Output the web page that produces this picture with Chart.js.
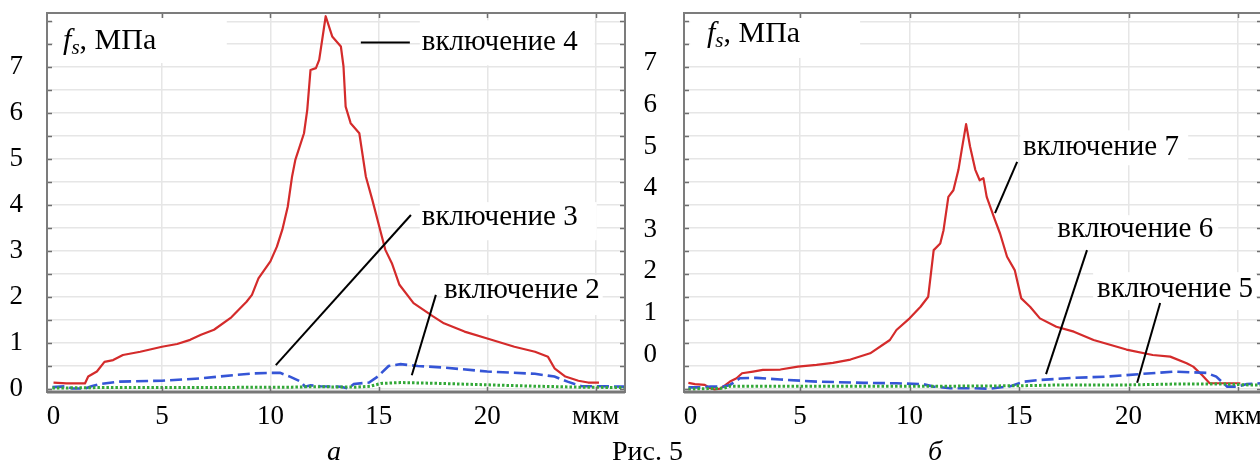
<!DOCTYPE html>
<html><head><meta charset="utf-8">
<script src="https://cdn.jsdelivr.net/npm/chart.js@4.4.1/dist/chart.umd.min.js"></script>
<style>
html,body{margin:0;padding:0;background:#fff;}
body{width:1260px;height:465px;overflow:hidden;position:relative;font-family:"Liberation Serif","Times New Roman",serif;color:#000;}
#wa{position:absolute;left:0;top:0;width:640px;height:465px;}
#wb{position:absolute;left:634px;top:0;width:640px;height:465px;}
canvas{display:block;}
.cap{position:absolute;font-size:28px;line-height:28px;white-space:nowrap;}
</style></head><body>
<div id="wa"><canvas id="ca" width="640" height="465" style="width:640px;height:465px"></canvas></div>
<div id="wb"><canvas id="cb" width="640" height="465" style="width:640px;height:465px"></canvas></div>
<div class="cap" style="left:327px;top:437px;font-style:italic">а</div>
<div class="cap" style="left:612px;top:437px">Рис. 5</div>
<div class="cap" style="left:928px;top:437px;font-style:italic">б</div>
<script>
// ---------- tick labels ----------
const xTicks = [0, 5, 10, 15, 20, 25];
const xTickLabels = ['0', '5', '10', '15', '20', 'мкм'];
const yTickLabels = [0, 1, 2, 3, 4, 5, 6, 7];
const yGridSteps = [0, 0.5, 1, 1.5, 2, 2.5, 3, 3.5, 4, 4.5, 5, 5.5, 6, 6.5, 7, 7.5, 8];

// ---------- panel а ----------
const a_incl4_x = [0, 0.6, 1.45, 1.6, 2.0, 2.35, 2.75, 3.2, 4.0, 5.0, 5.7, 6.3, 6.8, 7.4, 8.2, 8.9, 9.15, 9.45, 10.0, 10.3, 10.55, 10.8, 11.0, 11.15, 11.55, 11.7, 11.85, 12.1, 12.25, 12.55, 12.85, 13.25, 13.37, 13.47, 13.7, 14.1, 14.4, 14.7, 15.1, 15.3, 15.6, 15.95, 16.6, 17.5, 18.0, 18.95, 20.0, 21.25, 22.2, 22.8, 23.1, 23.6, 24.2, 24.65, 25.15];
const a_incl4_y = [0.13, 0.11, 0.11, 0.26, 0.37, 0.58, 0.62, 0.73, 0.80, 0.91, 0.97, 1.06, 1.17, 1.28, 1.55, 1.89, 2.04, 2.40, 2.77, 3.09, 3.46, 3.96, 4.62, 4.98, 5.56, 6.07, 6.94, 6.98, 7.16, 8.11, 7.67, 7.45, 7.02, 6.14, 5.78, 5.56, 4.62, 4.11, 3.38, 3.02, 2.73, 2.26, 1.86, 1.57, 1.42, 1.24, 1.09, 0.91, 0.80, 0.69, 0.44, 0.26, 0.17, 0.13, 0.13];
const a_incl3_x = [-0.05, 0.6, 0.85, 1.45, 1.75, 2.15, 3.05, 5.0, 6.75, 8.3, 9.25, 10.0, 10.45, 10.9, 11.4, 11.6, 11.85, 12.3, 13.25, 13.6, 13.85, 14.55, 14.95, 15.45, 16.0, 16.8, 17.9, 20.0, 22.2, 23.1, 23.7, 24.35, 25.3, 26.35];
const a_incl3_y = [0.03, 0.05, 0.0, 0.0, 0.05, 0.10, 0.15, 0.17, 0.22, 0.29, 0.33, 0.34, 0.34, 0.26, 0.15, 0.04, 0.07, 0.05, 0.04, 0.0, 0.10, 0.13, 0.26, 0.49, 0.53, 0.49, 0.46, 0.37, 0.32, 0.26, 0.15, 0.05, 0.05, 0.04];
const a_incl2_x = [-0.05, 2.0, 6.0, 11.0, 11.85, 13.9, 14.6, 15.1, 16.0, 17.9, 20.0, 22.2, 24.2, 26.35];
const a_incl2_y = [0.01, 0.02, 0.02, 0.03, 0.04, 0.03, 0.05, 0.11, 0.13, 0.11, 0.08, 0.05, 0.03, 0.02];

// ---------- panel б ----------
const b_incl7_x = [-0.1, 0.2, 0.65, 0.9, 1.1, 1.35, 1.6, 1.8, 2.1, 2.35, 2.85, 3.3, 4.1, 4.9, 5.75, 6.5, 7.3, 8.2, 9.1, 9.4, 10.0, 10.5, 10.85, 11.1, 11.4, 11.55, 11.77, 12.0, 12.23, 12.38, 12.58, 12.76, 13.0, 13.2, 13.37, 13.52, 13.9, 14.13, 14.45, 14.8, 15.1, 15.5, 15.95, 16.7, 17.5, 18.4, 19.9, 21.1, 21.9, 22.65, 22.95, 23.35, 23.7, 24.3, 25.1];
const b_incl7_y = [-0.68, -0.71, -0.73, -0.81, -0.84, -0.82, -0.73, -0.65, -0.57, -0.45, -0.41, -0.37, -0.36, -0.29, -0.25, -0.20, -0.12, 0.03, 0.35, 0.59, 0.87, 1.15, 1.39, 2.51, 2.67, 2.99, 3.79, 3.95, 4.44, 4.92, 5.54, 5.0, 4.44, 4.19, 4.24, 3.79, 3.23, 2.91, 2.35, 2.03, 1.35, 1.15, 0.87, 0.67, 0.55, 0.35, 0.12, -0.01, -0.05, -0.21, -0.29, -0.49, -0.69, -0.69, -0.69];
const b_incl6_x = [-0.1, 0.5, 0.9, 1.5, 1.8, 2.25, 3.0, 4.1, 5.75, 7.9, 9.4, 10.6, 11.1, 11.85, 12.9, 13.7, 14.6, 15.25, 15.95, 17.5, 19.0, 20.5, 22.05, 23.55, 24.0, 24.5, 25.0, 25.4, 26.1];
const b_incl6_y = [-0.79, -0.79, -0.77, -0.77, -0.73, -0.57, -0.56, -0.60, -0.65, -0.68, -0.69, -0.71, -0.77, -0.81, -0.81, -0.82, -0.76, -0.65, -0.61, -0.56, -0.53, -0.47, -0.41, -0.44, -0.53, -0.77, -0.77, -0.71, -0.69];
const b_incl5_x = [-0.1, 1.5, 1.8, 5.0, 11.8, 15.0, 17.0, 20.0, 22.0, 24.5, 25.5, 26.1];
const b_incl5_y = [-0.83, -0.81, -0.76, -0.76, -0.76, -0.75, -0.73, -0.73, -0.71, -0.71, -0.73, -0.73];

// ---------- helpers ----------
const pts = (xs, ys) => xs.map((x, i) => ({x: x, y: ys[i]}));
const FONT = '"Liberation Serif", "Times New Roman", serif';
const RED = '#d42b2b', BLUE = '#3555d6', GREEN = '#33a838';

const redDs = (d, yid) => ({data: d, yAxisID: yid, borderColor: RED, borderWidth: 2.2, pointRadius: 0, tension: 0, borderJoinStyle: 'round'});
const blueDs = (d, yid) => ({data: d, yAxisID: yid, borderColor: BLUE, borderWidth: 2.6, borderDash: [12, 5], pointRadius: 0, tension: 0});
const greenDs = (d, yid) => ({data: d, yAxisID: yid, borderColor: GREEN, borderWidth: 3, borderDash: [2.5, 2], pointRadius: 0, tension: 0});

const decor = {
  id: 'decor',
  beforeDatasetsDraw(chart, args, o) {
    const ctx = chart.ctx, sx = chart.scales.x, sy = chart.scales[o.axis];
    ctx.save();
    ctx.fillStyle = '#fff';
    o.boxes.forEach(b => {
      const x0 = sx.getPixelForValue(b[0]), x1 = sx.getPixelForValue(b[1]);
      const y0 = sy.getPixelForValue(b[3]), y1 = sy.getPixelForValue(b[2]);
      ctx.fillRect(x0, y0, x1 - x0, y1 - y0);
    });
    ctx.restore();
  },
  afterDatasetsDraw(chart, args, o) {
    const ctx = chart.ctx, a = chart.chartArea, sx = chart.scales.x, sg = chart.scales[o.grid], sy = chart.scales[o.axis];
    const seg = (x1, y1, x2, y2) => { ctx.beginPath(); ctx.moveTo(x1, y1); ctx.lineTo(x2, y2); ctx.stroke(); };
    ctx.save();
    ctx.strokeStyle = '#6f6f6f'; ctx.lineWidth = 1.5;
    sg.ticks.forEach(t => {
      const y = Math.round(sg.getPixelForValue(t.value)) + 0.5;
      seg(a.left, y, a.left + 5, y); seg(a.right - 5, y, a.right, y);
    });
    sx.ticks.forEach(t => {
      if (t.value <= 0) return;
      const x = Math.round(sx.getPixelForValue(t.value)) + 0.5;
      seg(x, a.top, x, a.top + 5); seg(x, a.bottom - 5, x, a.bottom);
    });
    ctx.strokeStyle = '#7c7c7c'; ctx.lineWidth = 2;
    ctx.strokeRect(a.left, a.top, a.right - a.left, a.bottom - a.top);
    ctx.strokeStyle = '#777'; ctx.lineWidth = 3;
    seg(a.left, a.bottom, a.right, a.bottom);
    ctx.strokeStyle = '#000'; ctx.lineWidth = 2;
    o.leaders.forEach(l => seg(sx.getPixelForValue(l[0]), sy.getPixelForValue(l[1]), sx.getPixelForValue(l[2]), sy.getPixelForValue(l[3])));
    ctx.fillStyle = '#000'; ctx.textAlign = 'left'; ctx.textBaseline = 'alphabetic';
    o.texts.forEach(t => {
      let x = sx.getPixelForValue(t.x);
      const y = sy.getPixelForValue(t.y);
      t.parts.forEach(p => {
        ctx.font = p.font;
        ctx.fillText(p.s, x, y + (p.dy || 0));
        x += ctx.measureText(p.s).width;
      });
    });
    ctx.restore();
  }
};

const headerParts = [
  {s: 'f', font: 'italic 30px ' + FONT},
  {s: 's', font: 'italic 21px ' + FONT, dy: 5},
  {s: ', МПа', font: '30px ' + FONT}
];
const lbl = s => [{s: s, font: '29px ' + FONT}];

const noPadV = s => { s.paddingTop = 0; s.paddingBottom = 0; };
function xScale(min, max) {
  return {
    type: 'linear', min: min, max: max,
    afterFit: s => { s.height = 73; s.paddingLeft = 0; s.paddingRight = 0; },
    afterBuildTicks: s => { s.ticks = xTicks.map(v => ({value: v})); },
    ticks: {
      autoSkip: false, maxRotation: 0, padding: 9, color: '#000',
      font: {family: FONT, size: 27},
      callback: v => xTickLabels[xTicks.indexOf(v)]
    },
    grid: {drawTicks: false, lineWidth: 1.5, color: c => (c.tick && c.tick.value === 0) ? 'rgba(0,0,0,0)' : '#e6e6e6'},
    border: {display: false}
  };
}

// ---------- chart а ----------
new Chart(document.getElementById('ca'), {
  type: 'line',
  data: {datasets: [greenDs(pts(a_incl2_x, a_incl2_y), 'y'), blueDs(pts(a_incl3_x, a_incl3_y), 'y'), redDs(pts(a_incl4_x, a_incl4_y), 'y')]},
  options: {
    animation: false, responsive: false, maintainAspectRatio: false,
    layout: {padding: {top: 13, right: 15, left: 0, bottom: 0}},
    plugins: {
      legend: {display: false}, tooltip: {enabled: false},
      decor: {
        axis: 'y', grid: 'y',
        boxes: [[-0.02, 7.99, 7.09, 8.07], [16.89, 24.95, 7.04, 8.02], [16.89, 25.05, 3.23, 4.06], [17.9, 25.32, 1.6, 2.47]],
        leaders: [[14.17, 7.54, 16.43, 7.54], [16.48, 3.78, 10.25, 0.51], [17.63, 2.04, 16.52, 0.29]],
        texts: [
          {x: 0.44, y: 7.39, parts: headerParts},
          {x: 16.98, y: 7.37, parts: lbl('включение 4')},
          {x: 16.98, y: 3.56, parts: lbl('включение 3')},
          {x: 18.0, y: 1.97, parts: lbl('включение 2')}
        ]
      }
    },
    scales: {
      x: xScale(-0.3, 26.35),
      y: {
        type: 'linear', position: 'left', min: -0.076, max: 8.18,
        afterFit: s => { s.width = 47; noPadV(s); },
        afterBuildTicks: s => { s.ticks = yGridSteps.map(v => ({value: v})); },
        ticks: {
          autoSkip: false, padding: 24, color: '#000', font: {family: FONT, size: 27},
          callback: v => yTickLabels.includes(v) ? String(v) : ''
        },
        grid: {drawTicks: false, lineWidth: 1.5, color: '#e6e6e6'},
        border: {display: false}
      }
    }
  },
  plugins: [decor]
});

// ---------- chart б ----------
new Chart(document.getElementById('cb'), {
  type: 'line',
  data: {datasets: [greenDs(pts(b_incl5_x, b_incl5_y), 'y'), blueDs(pts(b_incl6_x, b_incl6_y), 'y'), redDs(pts(b_incl7_x, b_incl7_y), 'y')]},
  options: {
    animation: false, responsive: false, maintainAspectRatio: false,
    layout: {padding: {top: 13, right: 12, left: 0, bottom: 0}},
    plugins: {
      legend: {display: false}, tooltip: {enabled: false},
      decor: {
        axis: 'y', grid: 'yg',
        boxes: [[-0.02, 7.74, 7.13, 8.09], [15.05, 22.72, 4.55, 5.39], [16.55, 24.09, 2.51, 3.35], [18.38, 25.82, 1.07, 1.98]],
        leaders: [[14.91, 4.63, 13.9, 3.40], [18.1, 2.51, 16.23, -0.47], [21.44, 1.24, 20.39, -0.68]],
        texts: [
          {x: 0.75, y: 7.51, parts: headerParts},
          {x: 15.18, y: 4.80, parts: lbl('включение 7')},
          {x: 16.74, y: 2.82, parts: lbl('включение 6')},
          {x: 18.56, y: 1.38, parts: lbl('включение 5')}
        ]
      }
    },
    scales: {
      x: xScale(-0.3, 26.09),
      y: {
        type: 'linear', position: 'left', min: -0.9, max: 8.21,
        afterFit: s => { s.width = 50; noPadV(s); },
        afterBuildTicks: s => { s.ticks = yTickLabels.map(v => ({value: v})); },
        ticks: {autoSkip: false, padding: 19, color: '#000', font: {family: FONT, size: 27}},
        grid: {display: false},
        border: {display: false}
      },
      yg: {
        type: 'linear', position: 'left', min: -0.076, max: 8.18,
        afterFit: s => { s.width = 0; noPadV(s); },
        afterBuildTicks: s => { s.ticks = yGridSteps.map(v => ({value: v})); },
        ticks: {display: false},
        grid: {drawTicks: false, lineWidth: 1.5, color: '#e6e6e6'},
        border: {display: false}
      }
    }
  },
  plugins: [decor]
});
</script>
</body></html>
